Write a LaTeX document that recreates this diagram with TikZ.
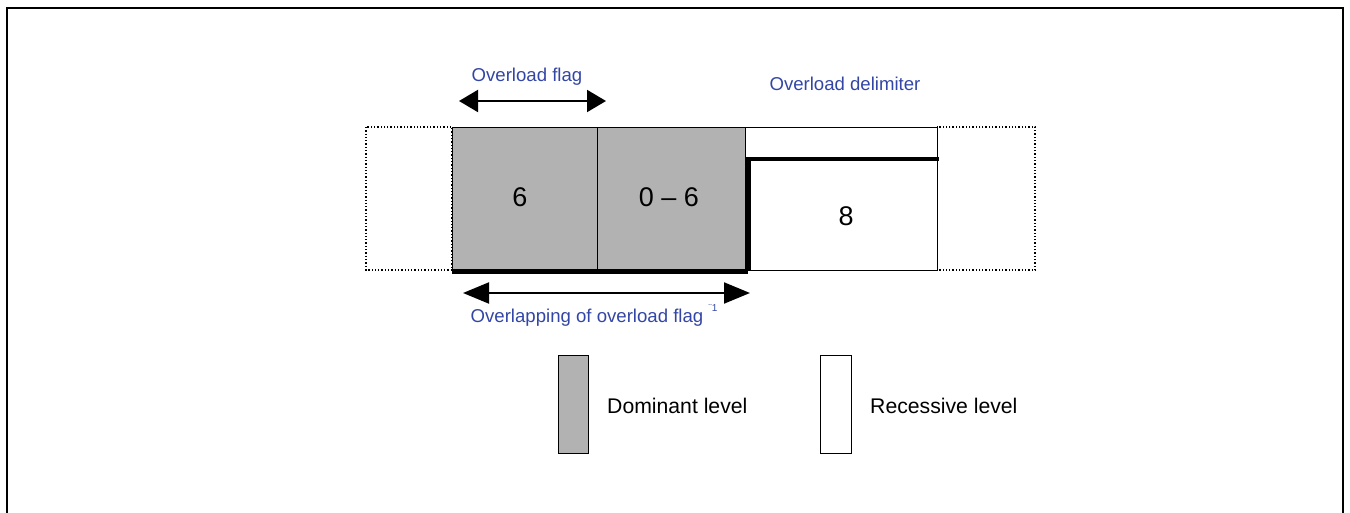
\documentclass[tikz,border=0pt]{standalone}
\usepackage{fontspec}
\setmainfont{Liberation Sans}
\usetikzlibrary{arrows.meta}
\definecolor{dom}{HTML}{B2B2B2}
\definecolor{lbl}{HTML}{3346A6}
\begin{document}
\begin{tikzpicture}[x=1pt,y=-1pt,
  thinbox/.style={draw=black,line width=1.3pt},
  dotbox/.style={draw=black,line width=1.3pt,dotted},
  heavy/.style={line width=4.5pt},
  bluelbl/.style={text=lbl,font=\fontsize{18.6}{22}\selectfont,inner sep=0pt},
  num/.style={font=\fontsize{27}{31}\selectfont,inner sep=0pt},
  leg/.style={font=\fontsize{21.2}{25}\selectfont,inner sep=0pt,anchor=west},
  bigarrow/.style={line width=2pt,{Triangle[length=19pt,width=22pt]}-{Triangle[length=19pt,width=22pt]}},
  bigarrowb/.style={line width=2pt,{Triangle[length=26pt,width=21pt]}-{Triangle[length=26pt,width=21pt]}}]
\useasboundingbox (0,0) rectangle (1350,513);
% outer frame (no bottom edge)
\draw[line width=2.4pt] (7,513) -- (7,8) -- (1343,8) -- (1343,513);
% bit fields
\draw[dotbox] (366,127) rectangle (452,270);
\draw[dotbox] (937,127) rectangle (1035,270);
\node[thinbox,fill=dom,minimum width=145pt,minimum height=143pt,anchor=north west,inner sep=0pt] (f1) at (452,127) {};
\node[thinbox,fill=dom,minimum width=148pt,minimum height=143pt,anchor=north west,inner sep=0pt] (f2) at (597,127) {};
\node[thinbox,fill=white,minimum width=192pt,minimum height=143pt,anchor=north west,inner sep=0pt] (f3) at (745,127) {};
% level lines
\draw[heavy] (f1.south west) -- ([xshift=2pt]f2.south east);
\draw[heavy] ([xshift=2pt]f2.south east) -- ([xshift=2pt,yshift=-32pt]f2.north east) -- ([xshift=1pt,yshift=-32pt]f3.north east);
% numbers
\node[num] (n1) at (520,197) {6};
\node[num] (n2) at (669,197) {0 – 6};
\node[num] (n3) at (846,216) {8};
% labels and arrows
\node[bluelbl] (lflag) at (527,77) {Overload flag};
\coordinate (a1l) at (459,101);
\coordinate (a1r) at (606,101);
\draw[bigarrow] (a1l) -- (a1r);
\node[bluelbl] (ldel) at (845,84) {Overload delimiter};
\coordinate (a2l) at (463,293);
\coordinate (a2r) at (750,293);
\draw[bigarrowb] (a2l) -- (a2r);
\node[bluelbl] (lover) at (587,318) {Overlapping of overload flag};
\node[text=lbl,font=\fontsize{10}{11}\selectfont,inner sep=0pt] (sup) at (713,308) {¨1};
% legend
\node[thinbox,fill=dom,minimum width=30pt,minimum height=98pt,anchor=north west,inner sep=0pt] (ld) at (558,355) {};
\node[leg] (ldt) at (607,406) {Dominant level};
\node[thinbox,fill=white,minimum width=31pt,minimum height=98pt,anchor=north west,inner sep=0pt] (lr) at (820,355) {};
\node[leg] (lrt) at (870,406) {Recessive level};
\end{tikzpicture}
\end{document}
